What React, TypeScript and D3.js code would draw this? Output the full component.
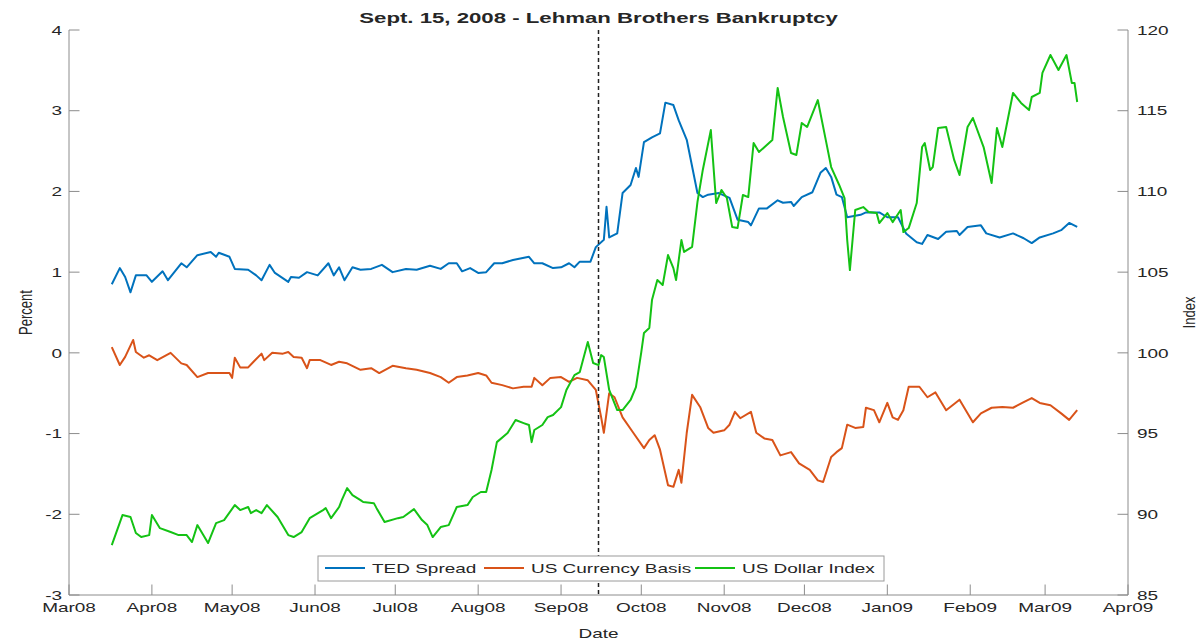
import React from 'react';
import * as d3 from 'd3';

// TED spread (percent, left axis)
const tedDates = [
  '2008-03-17', '2008-03-20', '2008-03-22', '2008-03-24', '2008-03-26', '2008-03-30',
  '2008-04-01', '2008-04-05', '2008-04-07', '2008-04-12', '2008-04-14', '2008-04-18', '2008-04-23', '2008-04-25', '2008-04-26', '2008-04-30',
  '2008-05-02', '2008-05-07', '2008-05-10', '2008-05-12', '2008-05-15', '2008-05-17', '2008-05-22', '2008-05-23', '2008-05-26', '2008-05-29',
  '2008-06-02', '2008-06-06', '2008-06-08', '2008-06-10', '2008-06-12', '2008-06-15', '2008-06-18', '2008-06-22', '2008-06-26', '2008-06-30',
  '2008-07-05', '2008-07-09', '2008-07-14', '2008-07-18', '2008-07-21', '2008-07-24', '2008-07-26', '2008-07-29',
  '2008-08-01', '2008-08-04', '2008-08-07', '2008-08-10', '2008-08-14', '2008-08-20', '2008-08-22', '2008-08-25', '2008-08-29',
  '2008-09-01', '2008-09-04', '2008-09-06', '2008-09-08', '2008-09-12', '2008-09-14', '2008-09-17', '2008-09-18', '2008-09-19', '2008-09-22', '2008-09-24', '2008-09-27', '2008-09-29', '2008-09-30',
  '2008-10-02', '2008-10-05', '2008-10-08', '2008-10-10', '2008-10-13', '2008-10-15', '2008-10-18', '2008-10-22', '2008-10-24', '2008-10-26', '2008-10-30',
  '2008-11-03', '2008-11-06', '2008-11-10', '2008-11-11', '2008-11-14', '2008-11-17', '2008-11-21', '2008-11-23', '2008-11-26', '2008-11-27', '2008-11-30',
  '2008-12-04', '2008-12-07', '2008-12-09', '2008-12-11', '2008-12-13', '2008-12-15', '2008-12-17', '2008-12-22', '2008-12-24', '2008-12-29',
  '2009-01-01', '2009-01-05', '2009-01-08', '2009-01-12', '2009-01-14', '2009-01-16', '2009-01-20', '2009-01-23', '2009-01-27', '2009-01-28', '2009-01-31',
  '2009-02-05', '2009-02-07', '2009-02-12', '2009-02-17', '2009-02-21', '2009-02-24', '2009-02-27',
  '2009-03-04', '2009-03-07', '2009-03-10', '2009-03-13',
];
const tedValues = [
  0.85, 1.05, 0.94, 0.75, 0.96, 0.96,
  0.88, 1.01, 0.90, 1.11, 1.06, 1.21, 1.25, 1.19, 1.24, 1.19,
  1.04, 1.03, 0.96, 0.90, 1.09, 0.99, 0.88, 0.94, 0.93, 1.00,
  0.96, 1.11, 0.96, 1.06, 0.90, 1.06, 1.03, 1.04, 1.09, 1.00,
  1.04, 1.03, 1.08, 1.04, 1.11, 1.11, 1.01, 1.05,
  0.99, 1.00, 1.11, 1.11, 1.15, 1.19, 1.11, 1.11, 1.05,
  1.06, 1.11, 1.06, 1.13, 1.13, 1.31, 1.40, 1.81, 1.43, 1.48, 1.98, 2.08, 2.29, 2.18,
  2.61, 2.67, 2.72, 3.10, 3.07, 2.88, 2.64, 1.98, 1.93, 1.96, 1.98,
  1.92, 1.65, 1.62, 1.58, 1.79, 1.79, 1.89, 1.86, 1.87, 1.82, 1.93,
  1.99, 2.23, 2.29, 2.18, 1.96, 1.93, 1.68, 1.71, 1.74, 1.74,
  1.68, 1.68, 1.48, 1.37, 1.35, 1.46, 1.41, 1.50, 1.51, 1.46, 1.56,
  1.58, 1.48, 1.43, 1.48, 1.42, 1.36, 1.43,
  1.48, 1.52, 1.61, 1.56,
];

// US currency basis (percent, left axis)
const basisDates = [
  '2008-03-17', '2008-03-20', '2008-03-22', '2008-03-25', '2008-03-26', '2008-03-29', '2008-03-31',
  '2008-04-03', '2008-04-08', '2008-04-12', '2008-04-14', '2008-04-18', '2008-04-22', '2008-04-26', '2008-04-30',
  '2008-05-01', '2008-05-02', '2008-05-04', '2008-05-07', '2008-05-09', '2008-05-12', '2008-05-13', '2008-05-16', '2008-05-20', '2008-05-22', '2008-05-24', '2008-05-27', '2008-05-29', '2008-05-30',
  '2008-06-03', '2008-06-07', '2008-06-10', '2008-06-13', '2008-06-18', '2008-06-22', '2008-06-25', '2008-06-30',
  '2008-07-05', '2008-07-09', '2008-07-14', '2008-07-18', '2008-07-21', '2008-07-24', '2008-07-28',
  '2008-08-01', '2008-08-04', '2008-08-06', '2008-08-10', '2008-08-14', '2008-08-18', '2008-08-21', '2008-08-22', '2008-08-25', '2008-08-28',
  '2008-09-01', '2008-09-04', '2008-09-07', '2008-09-11', '2008-09-14', '2008-09-16', '2008-09-17', '2008-09-19', '2008-09-21', '2008-09-24', '2008-09-28',
  '2008-10-02', '2008-10-04', '2008-10-06', '2008-10-08', '2008-10-11', '2008-10-13', '2008-10-15', '2008-10-16', '2008-10-18', '2008-10-20', '2008-10-23', '2008-10-26', '2008-10-28',
  '2008-11-01', '2008-11-03', '2008-11-05', '2008-11-07', '2008-11-11', '2008-11-13', '2008-11-16', '2008-11-19', '2008-11-22', '2008-11-26', '2008-11-29',
  '2008-12-03', '2008-12-06', '2008-12-08', '2008-12-11', '2008-12-13', '2008-12-15', '2008-12-17', '2008-12-20', '2008-12-23', '2008-12-24', '2008-12-27', '2008-12-29',
  '2009-01-01', '2009-01-03', '2009-01-05', '2009-01-07', '2009-01-09', '2009-01-13', '2009-01-16', '2009-01-19', '2009-01-23', '2009-01-28',
  '2009-02-02', '2009-02-05', '2009-02-09', '2009-02-13', '2009-02-17', '2009-02-21', '2009-02-24', '2009-02-27',
  '2009-03-03', '2009-03-07', '2009-03-10', '2009-03-13',
];
const basisValues = [
  0.07, -0.15, -0.05, 0.16, 0.01, -0.06, -0.03,
  -0.09, 0.00, -0.13, -0.15, -0.30, -0.25, -0.25, -0.25,
  -0.31, -0.06, -0.18, -0.18, -0.11, -0.01, -0.09, 0.00, -0.01, 0.01, -0.05, -0.06, -0.19, -0.09,
  -0.09, -0.15, -0.11, -0.13, -0.21, -0.19, -0.25, -0.16,
  -0.19, -0.21, -0.25, -0.30, -0.37, -0.30, -0.28,
  -0.25, -0.28, -0.37, -0.40, -0.44, -0.42, -0.42, -0.31, -0.40, -0.31,
  -0.30, -0.36, -0.31, -0.34, -0.46, -0.80, -0.99, -0.50, -0.55, -0.80, -0.99,
  -1.18, -1.08, -1.02, -1.20, -1.64, -1.66, -1.45, -1.61, -0.99, -0.52, -0.67, -0.93, -0.99,
  -0.96, -0.89, -0.73, -0.81, -0.73, -0.99, -1.06, -1.08, -1.27, -1.23, -1.37,
  -1.45, -1.58, -1.60, -1.29, -1.23, -1.18, -0.89, -0.93, -0.92, -0.68, -0.71, -0.86,
  -0.62, -0.80, -0.83, -0.71, -0.42, -0.42, -0.55, -0.49, -0.71, -0.58,
  -0.86, -0.75, -0.68, -0.67, -0.68, -0.61, -0.56, -0.62,
  -0.65, -0.75, -0.83, -0.71,
];

// US dollar index (right axis)
const dollarDates = [
  '2008-03-17', '2008-03-21', '2008-03-24', '2008-03-26', '2008-03-28', '2008-03-31',
  '2008-04-01', '2008-04-04', '2008-04-08', '2008-04-11', '2008-04-14', '2008-04-16', '2008-04-18', '2008-04-22', '2008-04-25', '2008-04-28',
  '2008-05-02', '2008-05-04', '2008-05-07', '2008-05-08', '2008-05-10', '2008-05-12', '2008-05-14', '2008-05-18', '2008-05-22', '2008-05-24', '2008-05-27', '2008-05-30',
  '2008-06-04', '2008-06-05', '2008-06-07', '2008-06-10', '2008-06-11', '2008-06-13', '2008-06-15', '2008-06-18', '2008-06-19', '2008-06-23', '2008-06-24', '2008-06-27',
  '2008-07-02', '2008-07-04', '2008-07-08', '2008-07-11', '2008-07-13', '2008-07-15', '2008-07-18', '2008-07-21', '2008-07-24', '2008-07-28', '2008-07-30',
  '2008-08-02', '2008-08-04', '2008-08-06', '2008-08-08', '2008-08-12', '2008-08-15', '2008-08-18', '2008-08-20', '2008-08-21', '2008-08-22', '2008-08-25', '2008-08-27', '2008-08-29',
  '2008-09-01', '2008-09-03', '2008-09-06', '2008-09-08', '2008-09-09', '2008-09-11', '2008-09-13', '2008-09-15', '2008-09-16', '2008-09-17', '2008-09-19', '2008-09-22', '2008-09-24', '2008-09-27', '2008-09-29',
  '2008-10-01', '2008-10-02', '2008-10-04', '2008-10-05', '2008-10-07', '2008-10-09', '2008-10-11', '2008-10-13', '2008-10-14', '2008-10-16', '2008-10-17', '2008-10-20', '2008-10-22', '2008-10-24', '2008-10-27', '2008-10-29', '2008-10-31',
  '2008-11-02', '2008-11-04', '2008-11-06', '2008-11-08', '2008-11-10', '2008-11-12', '2008-11-14', '2008-11-19', '2008-11-21', '2008-11-23', '2008-11-26', '2008-11-28', '2008-11-30',
  '2008-12-02', '2008-12-06', '2008-12-09', '2008-12-11', '2008-12-14', '2008-12-16', '2008-12-17', '2008-12-18', '2008-12-20', '2008-12-23', '2008-12-25', '2008-12-28', '2008-12-29',
  '2009-01-01', '2009-01-03', '2009-01-06', '2009-01-07', '2009-01-09', '2009-01-12', '2009-01-14', '2009-01-15', '2009-01-17', '2009-01-18', '2009-01-20', '2009-01-23', '2009-01-26', '2009-01-28', '2009-01-31',
  '2009-02-02', '2009-02-06', '2009-02-09', '2009-02-11', '2009-02-13', '2009-02-17', '2009-02-20', '2009-02-23', '2009-02-24', '2009-02-27', '2009-02-28',
  '2009-03-03', '2009-03-06', '2009-03-09', '2009-03-11', '2009-03-12', '2009-03-13',
];
const dollarValues = [
  88.09, 89.95, 89.83, 88.84, 88.59, 88.71,
  89.95, 89.14, 88.90, 88.71, 88.71, 88.28, 89.33, 88.22, 89.45, 89.64,
  90.57, 90.26, 90.45, 90.07, 90.26, 90.07, 90.57, 89.83, 88.71, 88.59, 88.90, 89.76,
  90.26, 90.38, 89.76, 90.45, 90.88, 91.62, 91.19, 90.88, 90.76, 90.69, 90.38, 89.52,
  89.76, 89.83, 90.32, 89.64, 89.33, 88.59, 89.21, 89.33, 90.45, 90.57, 91.07,
  91.38, 91.38, 92.74, 94.47, 95.03, 95.84, 95.65, 95.53, 94.47, 95.22, 95.53, 96.02, 96.15,
  96.64, 97.70, 98.62, 98.81, 99.43, 100.67, 99.37, 99.24, 99.86, 99.74, 97.70, 96.46, 96.46, 97.08, 97.88,
  100.05, 101.23, 101.54, 103.27, 104.51, 104.20, 106.06, 105.25, 104.51, 106.99, 106.25, 106.56, 109.34, 111.33, 113.80, 109.28, 110.09,
  109.59, 107.79, 107.73, 109.78, 109.65, 113.00, 112.44, 113.18, 116.41, 114.61, 112.38, 112.26, 114.24,
  113.99, 115.66, 113.18, 111.51, 110.40, 109.59, 106.99, 105.13, 108.85, 109.03, 108.72, 108.66, 108.04,
  108.66, 108.10, 108.85, 107.48, 107.73, 109.28, 112.75, 113.00, 111.33, 111.51, 113.93, 113.99, 111.95, 111.02, 113.99,
  114.55, 112.75, 110.52, 113.93, 112.75, 116.10, 115.48, 115.04, 115.85, 116.10, 117.34,
  118.45, 117.52, 118.45, 116.72, 116.72, 115.54,
];

const monthTicks = [
  '2008-03-01', '2008-04-01', '2008-05-01', '2008-06-01', '2008-07-01', '2008-08-01', '2008-09-01',
  '2008-10-01', '2008-11-01', '2008-12-01', '2009-01-01', '2009-02-01', '2009-03-01', '2009-04-01',
];
const percentTicks = [-3, -2, -1, 0, 1, 2, 3, 4];
const indexTicks = [85, 90, 95, 100, 105, 110, 115, 120];
const eventDate = '2008-09-15';
const chartTitle = 'Sept. 15, 2008 - Lehman Brothers Bankruptcy';
const seriesNames = ['TED Spread', 'US Currency Basis', 'US Dollar Index'];
const seriesColors = ['#0072BD', '#D95319', '#14C214'];

const W = 1201;
const H = 643;
const left = 69;
const right = 1128;
const top = 30;
const bottom = 595;
const tick = 10.5;
const SX = 1.46; // the picture is stretched sideways
const FONT = '"Liberation Sans", Arial, Helvetica, sans-serif';
const AXIS = '#8c8c8c';
const INK = '#262626';

const parse = d3.timeParse('%Y-%m-%d');
const fmt = d3.timeFormat('%b%y');

function Label({ x, y, anchor = 'middle', size = 13, weight = 'normal', rotate = 0, sx = SX, dy, children }: any) {
  const t = `translate(${x},${y}) scale(${sx},1)` + (rotate ? ` rotate(${rotate})` : '');
  return (
    <text transform={t} textAnchor={anchor} fontSize={size} fontWeight={weight} fill={INK} dy={dy}>
      {children}
    </text>
  );
}

export default function App() {
  const x = d3.scaleTime()
    .domain([parse(monthTicks[0])!, parse(monthTicks[monthTicks.length - 1])!])
    .range([left, right]);
  const yL = d3.scaleLinear().domain([-3, 4]).range([bottom, top]);
  const yR = d3.scaleLinear().domain([85, 120]).range([bottom, top]);

  const series = [
    { dates: tedDates, values: tedValues, y: yL },
    { dates: basisDates, values: basisValues, y: yL },
    { dates: dollarDates, values: dollarValues, y: yR },
  ];

  const path = (dates: string[], values: number[], y: d3.ScaleLinear<number, number>) =>
    d3.line<number>()
      .x((_, i) => x(parse(dates[i])!))
      .y(v => y(v))(values) || '';

  const ex = x(parse(eventDate)!);
  const legendLineX = [325, 484, 695];
  const legendY = 568;

  return (
    <svg width={W} height={H} style={{ position: 'absolute', left: 0, top: 0, background: '#fff' }} fontFamily={FONT}>
      <rect width={W} height={H} fill="#fff" />

      {/* series */}
      {series.map((s, i) => (
        <path key={i} d={path(s.dates, s.values, s.y)} fill="none" stroke={seriesColors[i]} strokeWidth={2} strokeLinejoin="round" />
      ))}

      {/* event marker */}
      <line x1={ex} x2={ex} y1={top} y2={bottom} stroke="#222" strokeWidth={1.5} strokeDasharray="4,3" />

      {/* axes */}
      <g stroke={AXIS} strokeWidth={1} fill="none">
        <line x1={left} x2={left} y1={top} y2={bottom} />
        <line x1={right} x2={right} y1={top} y2={bottom} />
        <line x1={left} x2={right} y1={bottom} y2={bottom} />
        {percentTicks.map(t => (
          <line key={'l' + t} x1={left} x2={left + tick} y1={yL(t)} y2={yL(t)} />
        ))}
        {indexTicks.map(t => (
          <line key={'r' + t} x1={right - tick} x2={right} y1={yR(t)} y2={yR(t)} />
        ))}
        {monthTicks.map(m => (
          <line key={'b' + m} x1={x(parse(m)!)} x2={x(parse(m)!)} y1={bottom} y2={bottom - tick} />
        ))}
      </g>

      {percentTicks.map(t => (
        <Label key={'lt' + t} x={62} y={yL(t)} anchor="end" dy="0.36em">{String(t)}</Label>
      ))}
      {indexTicks.map(t => (
        <Label key={'rt' + t} x={1137} y={yR(t)} anchor="start" dy="0.36em">{String(t)}</Label>
      ))}
      {monthTicks.map(m => (
        <Label key={'bt' + m} x={x(parse(m)!)} y={612}>{fmt(parse(m)!)}</Label>
      ))}

      <Label x={(left + right) / 2} y={638}>Date</Label>
      <Label x={32} y={(top + bottom) / 2} rotate={-90}>Percent</Label>
      <Label x={1195} y={(top + bottom) / 2} rotate={-90} sx={1.3}>Index</Label>
      <Label x={(left + right) / 2} y={23} size={15} weight="bold" sx={1.48}>{chartTitle}</Label>

      {/* legend */}
      <rect x={318} y={556} width={566} height={25} fill="#fff" stroke="#9a9a9a" strokeWidth={1} />
      {seriesNames.map((n, i) => (
        <g key={n}>
          <line x1={legendLineX[i]} x2={legendLineX[i] + 40} y1={legendY} y2={legendY} stroke={seriesColors[i]} strokeWidth={2} />
          <Label x={legendLineX[i] + 47} y={legendY} anchor="start" dy="0.36em">{n}</Label>
        </g>
      ))}
    </svg>
  );
}
